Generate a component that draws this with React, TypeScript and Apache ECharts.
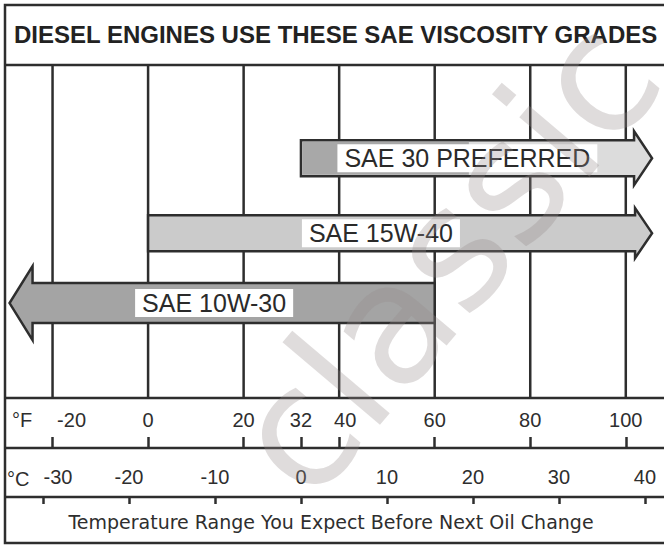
import React, { useEffect, useRef } from 'react';
import * as echarts from 'echarts';

// ---- data ----
const TITLE = 'DIESEL ENGINES USE THESE SAE VISCOSITY GRADES';
const FOOTER = 'Temperature Range You Expect Before Next Oil Change';
const WATERMARK = 'classic';

const gradeNames = ['SAE 30 PREFERRED', 'SAE 15W-40', 'SAE 10W-30'];
const gradeFromF = [32, 0, -29];
const gradeToF = [105.5, 105.5, 60];
const gradeArrowSide = ['right', 'right', 'left'];
const gradeLane = [0.28, 0.505, 0.715];

const gridLinesF = [-20, 0, 20, 40, 60, 80, 100];
const fahrenheitTicks = [-20, 0, 20, 32, 40, 60, 80, 100];
const celsiusTicks = [-30, -20, -10, 0, 10, 20, 30, 40];

const F_MIN = -31;
const F_MAX = 108;
const toC = (f: number) => (f - 32) / 1.8;

const INK = '#2e2e2e';
const FONT = "'Liberation Sans', Arial, sans-serif";

export default function App() {
  const ref = useRef<HTMLDivElement>(null);

  useEffect(() => {
    if (!ref.current) return;
    const chart = echarts.init(ref.current, null, { renderer: 'svg' });

    const arrowFill = ['#dcdcdc', '#cbcbcb', '#a4a4a4'];
    const headHalf = [27, 25, 37];
    const headLen = [18, 17, 23];
    const shaftHalf = [18, 18, 20];
    const labelShift = [4, -6, -8];

    const labelRich = (size: number) => ({
      sh20: { padding: [0, 0, 0, 38], fontSize: size, color: INK, fontFamily: FONT },
      sh12: { padding: [0, 0, 0, 12], fontSize: size, color: INK, fontFamily: FONT },
      sh30: { padding: [0, 0, 0, 30], fontSize: size, color: INK, fontFamily: FONT },
    });

    const option: any = {
      animation: false,
      backgroundColor: '#fff',
      grid: [
        { left: 0, right: 0, top: 65, height: 333 },
        { left: 0, right: 0, top: 398, height: 50 },
        { left: 0, right: 0, top: 448, height: 49 },
      ],
      xAxis: [
        { gridIndex: 0, type: 'value', min: F_MIN, max: F_MAX, show: false },
        {
          gridIndex: 1,
          type: 'value',
          min: F_MIN,
          max: F_MAX,
          position: 'bottom',
          axisLine: { show: false },
          axisTick: { show: true, inside: true, length: 11, customValues: fahrenheitTicks, lineStyle: { color: INK, width: 2.5 } },
          axisLabel: {
            show: true,
            inside: true,
            margin: 18,
            customValues: fahrenheitTicks,
            fontSize: 20,
            color: INK,
            fontFamily: FONT,
            formatter: (v: number) => (v === -20 ? `{sh20|${v}}` : v === 40 ? `{sh12|${v}}` : `${v}`),
            rich: labelRich(20),
          },
          splitLine: { show: false },
        },
        {
          gridIndex: 2,
          type: 'value',
          min: toC(F_MIN),
          max: toC(F_MAX),
          position: 'top',
          axisLine: { show: false },
          axisTick: { show: true, inside: true, length: 7, customValues: celsiusTicks, lineStyle: { color: INK, width: 2.5 } },
          axisLabel: {
            show: true,
            inside: true,
            margin: 19,
            customValues: celsiusTicks,
            fontSize: 20,
            color: INK,
            fontFamily: FONT,
            formatter: (v: number) => (v === -30 ? `{sh30|${v}}` : `${v}`),
            rich: labelRich(20),
          },
          splitLine: { show: false },
        },
      ],
      yAxis: [
        { gridIndex: 0, type: 'value', min: 0, max: 1, inverse: true, show: false },
        { gridIndex: 1, type: 'value', min: 0, max: 1, show: false },
        { gridIndex: 2, type: 'value', min: 0, max: 1, show: false },
      ],
      graphic: [
        { type: 'rect', shape: { x: 5, y: 5, width: 720, height: 538 }, style: { fill: 'none', stroke: INK, lineWidth: 2.5 }, z: 0 },
        { type: 'line', shape: { x1: 5, y1: 65, x2: 664, y2: 65 }, style: { stroke: INK, lineWidth: 2.5 } },
        { type: 'line', shape: { x1: 5, y1: 398, x2: 664, y2: 398 }, style: { stroke: INK, lineWidth: 2.5 } },
        { type: 'line', shape: { x1: 5, y1: 448, x2: 664, y2: 448 }, style: { stroke: INK, lineWidth: 2.5 } },
        { type: 'line', shape: { x1: 5, y1: 497, x2: 664, y2: 497 }, style: { stroke: INK, lineWidth: 2.5 } },
        {
          type: 'text', x: 14, y: 34,
          style: { text: TITLE, fontSize: 24, fontWeight: 'bold', fontFamily: FONT, fill: '#222', verticalAlign: 'middle' },
        },
        {
          type: 'text', x: 12, y: 420,
          style: { text: '°F', fontSize: 20, fontFamily: FONT, fill: INK, verticalAlign: 'middle' },
        },
        {
          type: 'text', x: 7, y: 479,
          style: { text: '°C', fontSize: 20, fontFamily: FONT, fill: INK, verticalAlign: 'middle' },
        },
        {
          type: 'text', x: 331, y: 522,
          style: { text: FOOTER, fontSize: 19, fontFamily: "'DejaVu Sans', sans-serif", fill: INK, align: 'center', verticalAlign: 'middle' },
        },
        {
          type: 'text', x: 330, y: 524, rotation: 0.87, z: 100,
          style: { text: WATERMARK, fontSize: 168, fontFamily: "'DejaVu Sans', sans-serif", fill: 'rgba(150,138,138,0.3)', verticalAlign: 'bottom' },
        },
      ],
      series: [
        {
          type: 'custom',
          name: 'grid lines',
          xAxisIndex: 0,
          yAxisIndex: 0,
          z: 1,
          silent: true,
          data: gridLinesF.map((v) => [v]),
          encode: { x: 0 },
          renderItem: (params: any, api: any) => {
            const v = api.value(0);
            const a = api.coord([v, 0]);
            const b = api.coord([v, 1]);
            return { type: 'line', shape: { x1: a[0], y1: a[1], x2: b[0], y2: b[1] }, style: { stroke: INK, lineWidth: 2.5 } };
          },
        },
        {
          type: 'custom',
          name: 'grades',
          xAxisIndex: 0,
          yAxisIndex: 0,
          z: 2,
          clip: false,
          data: gradeNames.map((n, i) => [gradeFromF[i], gradeToF[i], gradeLane[i]]),
          encode: { x: [0, 1], y: 2 },
          renderItem: (params: any, api: any) => {
            const i = params.dataIndex;
            const from = api.value(0);
            const to = api.value(1);
            const lane = api.value(2);
            const p0 = api.coord([from, lane]);
            const p1 = api.coord([to, lane]);
            const y = p0[1];
            const h = shaftHalf[i];
            const H = headHalf[i];
            const L = headLen[i];
            let pts: number[][];
            if (gradeArrowSide[i] === 'right') {
              const x0 = p0[0], x1 = p1[0], xh = x1 - L;
              pts = [[x0, y - h], [xh, y - h], [xh, y - H], [x1, y], [xh, y + H], [xh, y + h], [x0, y + h]];
            } else {
              const x0 = p0[0], x1 = p1[0], xh = x0 + L;
              pts = [[x1, y - h], [xh, y - h], [xh, y - H], [x0, y], [xh, y + H], [xh, y + h], [x1, y + h]];
            }
            const mid = api.coord([(from + Math.min(to, 100)) / 2, lane]);
            const cx = mid[0] + labelShift[i];
            const children: any[] = [
              { type: 'polygon', shape: { points: pts }, style: { fill: arrowFill[i], stroke: INK, lineWidth: 2.5 } },
            ];
            if (i === 0) {
              children.push({
                type: 'rect',
                shape: { x: p0[0] + 1.5, y: y - h + 1.5, width: cx - p0[0], height: 2 * h - 3 },
                style: { fill: '#a8a8a8' },
              });
            }
            children.push({
              type: 'text',
              x: cx,
              y: y,
              style: {
                text: gradeNames[i],
                fontSize: 25,
                fontFamily: FONT,
                fill: '#2a2a2a',
                align: 'center',
                verticalAlign: 'middle',
                backgroundColor: '#fff',
                padding: [2, 7, 1, 7],
              },
            });
            return { type: 'group', children };
          },
        },
      ],
    };

    chart.setOption(option);
    return () => chart.dispose();
  }, []);

  return (
    <div
      ref={ref}
      style={{ position: 'fixed', left: 0, top: 0, width: 664, height: 549, background: '#fff' }}
    />
  );
}
